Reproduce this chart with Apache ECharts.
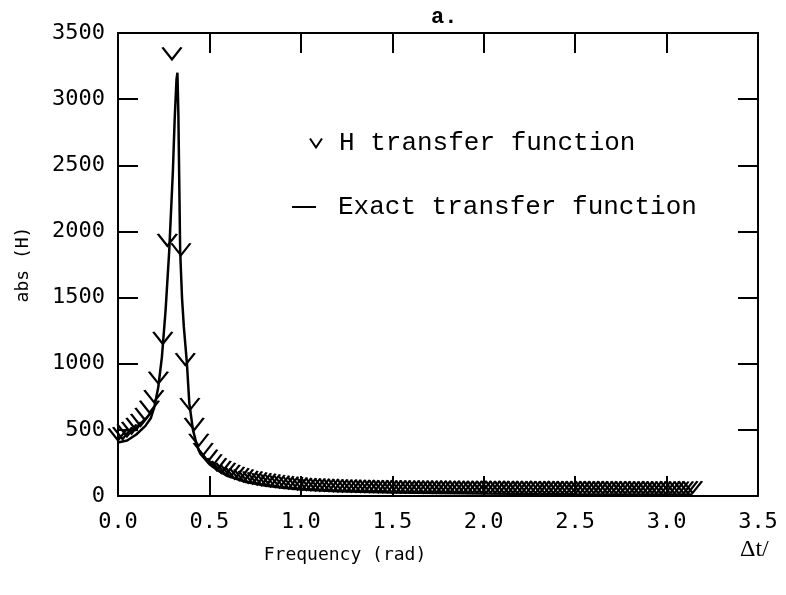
<!DOCTYPE html>
<html>
<head>
<meta charset="utf-8">
<script src="https://cdn.jsdelivr.net/npm/echarts@6/dist/echarts.min.js"></script>
<style>html,body{margin:0;padding:0;background:#fff}#c{width:786px;height:595px}</style>
</head>
<body>
<div id="c"></div>
<script>
// H transfer function (discrete estimates) — frequency (rad) and |H|
var hFreq = [0.000,0.025,0.049,0.074,0.098,0.123,0.147,0.172,0.196,0.221,0.245,0.270,0.295,0.319,0.344,0.368,0.393,0.417,0.442,0.466,
0.491,0.515,0.540,0.565,0.589,0.614,0.638,0.663,0.687,0.712,0.736,0.761,0.785,0.810,0.834,0.859,0.884,0.908,0.933,0.957,
0.982,1.006,1.031,1.055,1.080,1.104,1.129,1.154,1.178,1.203,1.227,1.252,1.276,1.301,1.325,1.350,1.374,1.399,1.424,1.448,
1.473,1.497,1.522,1.546,1.571,1.595,1.620,1.644,1.669,1.694,1.718,1.743,1.767,1.792,1.816,1.841,1.865,1.890,1.914,1.939,
1.963,1.988,2.013,2.037,2.062,2.086,2.111,2.135,2.160,2.184,2.209,2.233,2.258,2.283,2.307,2.332,2.356,2.381,2.405,2.430,
2.454,2.479,2.503,2.528,2.553,2.577,2.602,2.626,2.651,2.675,2.700,2.724,2.749,2.773,2.798,2.823,2.847,2.872,2.896,2.921,
2.945,2.970,2.994,3.019,3.043,3.068,3.093,3.117,3.142];
var hVals = [420,430,450,470,500,530,575,630,710,850,1150,1890,3300,null,1820,990,650,500,380,310,
260,225,195,175,160,145,130,120,110,100,95,88,82,78,72,68,64,60,56,53,
50,47,45,43,42,40,39,38,36,35,34,34,33,32,31,31,30,30,29,29,
28,28,27,27,26,27,26,26,25,26,25,25,25,24,25,24,24,24,23,24,
24,23,23,24,23,23,22,23,23,22,23,22,22,22,23,22,22,21,22,22,
21,22,21,21,22,21,21,21,20,21,21,20,21,20,20,21,20,20,20,21,
20,20,19,20,20,19,20,21,22];
// Exact transfer function (continuous curve)
var exFreq = [0.00,0.05,0.10,0.15,0.18,0.20,0.22,0.24,0.26,0.28,0.29,0.30,0.31,0.32,0.325,0.33,0.34,0.35,0.36,0.377,
0.39,0.41,0.43,0.45,0.50,0.55,0.60,0.70,0.80,0.90,1.00,1.20,1.50,2.00,2.50,3.00,3.14];
var exVals = [405,420,465,530,590,680,820,1050,1400,1850,2150,2450,2850,3150,3200,2900,1850,1500,1280,1000,
700,500,390,320,240,190,150,105,80,62,50,36,26,18,14,12,11];
// Tick labels / text
var xMin = 0, xMax = 3.5, xStep = 0.5;
var yMin = 0, yMax = 3500, yStep = 500;
var titleText = 'a.';
var xName = 'Frequency (rad)';
var yName = 'abs (H)';
var legendNames = ['H transfer function', 'Exact transfer function'];

var hData = hFreq.map(function (f, i) { return [f, hVals[i]]; });
var exData = exFreq.map(function (f, i) { return [f, exVals[i]]; });

var plotFont = 'DejaVu Sans Mono';
var typeFont = 'Liberation Mono';
var vPath = 'path://M0,0 L6,9 L12,0';

function frameAxis(pos) {
  return {
    type: 'value', position: pos,
    axisLine: {show: true, onZero: false, lineStyle: {color: '#000', width: 2}},
    axisTick: {show: true, inside: true, length: 20, lineStyle: {color: '#000', width: 2}},
    axisLabel: {show: false}, splitLine: {show: false}
  };
}

var xTop = frameAxis('top');
xTop.min = xMin; xTop.max = xMax; xTop.interval = xStep;
var yRight = frameAxis('right');
yRight.min = yMin; yRight.max = yMax; yRight.interval = yStep;

var chart = echarts.init(document.getElementById('c'), null, {renderer: 'canvas'});
chart.setOption({
  animation: false,
  backgroundColor: '#fff',
  title: {
    text: titleText, left: 426, top: 1,
    textStyle: {fontFamily: typeFont, fontSize: 22, fontWeight: 'bold', color: '#000'}
  },
  grid: {left: 118, right: 28, top: 33, bottom: 99, containLabel: false},
  legend: [{
    left: 304, top: 125, orient: 'vertical',
    data: [{name: legendNames[0], icon: vPath}],
    itemWidth: 12, itemHeight: 9,
    textStyle: {fontFamily: typeFont, fontSize: 26, color: '#000', padding: [0, 0, 0, 12]},
    selectedMode: false
  }, {
    left: 287, top: 189, orient: 'vertical',
    data: [{name: legendNames[1], icon: 'rect'}],
    itemWidth: 24, itemHeight: 2,
    textStyle: {fontFamily: typeFont, fontSize: 26, color: '#000', padding: [0, 0, 0, 17]},
    selectedMode: false
  }],
  xAxis: [{
    type: 'value', min: xMin, max: xMax, interval: xStep, position: 'bottom',
    name: xName, nameLocation: 'middle', nameGap: 50,
    nameTextStyle: {fontFamily: plotFont, fontSize: 18, color: '#000', padding: [0, 186, 0, 0]},
    axisLine: {show: true, onZero: false, lineStyle: {color: '#000', width: 2}},
    axisTick: {show: true, inside: true, length: 20, lineStyle: {color: '#000', width: 2}},
    axisLabel: {show: true, margin: 15, fontFamily: plotFont, fontSize: 22, color: '#000',
      formatter: function (v) { return v.toFixed(1); }},
    splitLine: {show: false}
  }, xTop],
  yAxis: [{
    type: 'value', min: yMin, max: yMax, interval: yStep, position: 'left',
    name: yName, nameLocation: 'middle', nameGap: 86, nameRotate: 90,
    nameTextStyle: {fontFamily: plotFont, fontSize: 18, color: '#000'},
    axisLine: {show: true, onZero: false, lineStyle: {color: '#000', width: 2}},
    axisTick: {show: true, inside: true, length: 20, lineStyle: {color: '#000', width: 2}},
    axisLabel: {show: true, margin: 13, fontFamily: plotFont, fontSize: 22, color: '#000',
      formatter: function (v) { return String(v); }},
    splitLine: {show: false}
  }, yRight],
  graphic: [{
    type: 'text', left: 740, top: 538,
    style: {text: 'Δt/', font: '24px "Liberation Serif"', fill: '#000'}
  }],
  series: [{
    name: legendNames[1], type: 'line', xAxisIndex: 0, yAxisIndex: 0,
    data: exData, showSymbol: false, smooth: false, clip: true,
    lineStyle: {color: '#000', width: 2.5},
    itemStyle: {color: '#000'}, z: 2
  }, {
    name: legendNames[0], type: 'scatter', xAxisIndex: 0, yAxisIndex: 0,
    data: hData, symbol: vPath, symbolSize: [19, 12], symbolOffset: [0, '-50%'],
    clip: true,
    itemStyle: {color: 'rgba(0,0,0,0)', borderColor: '#000', borderWidth: 2, opacity: 1},
    z: 3
  }]
});
</script>
</body>
</html>
